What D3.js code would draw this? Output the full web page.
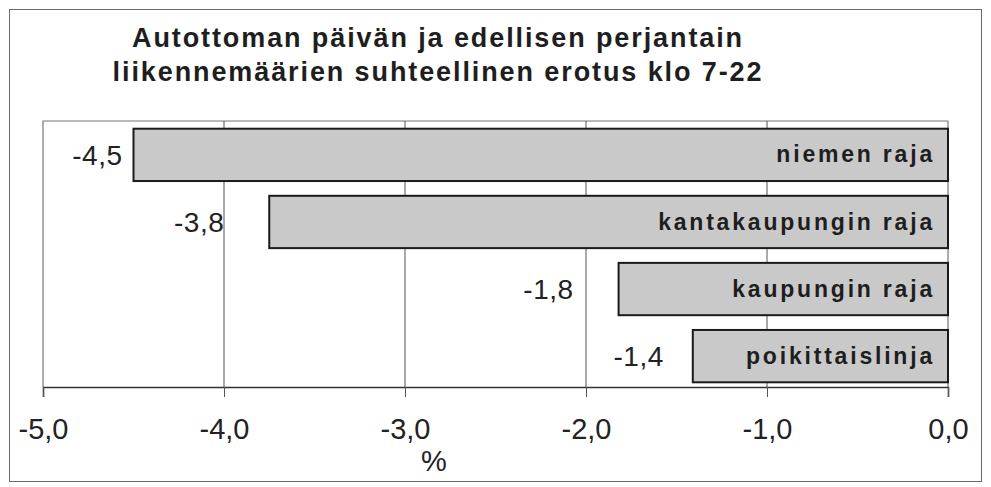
<!DOCTYPE html>
<html>
<head>
<meta charset="utf-8">
<script src="https://cdn.jsdelivr.net/npm/d3@7"></script>
<style>
  html, body { margin: 0; padding: 0; background: #fff; }
  svg { display: block; }
</style>
</head>
<body>
<svg id="chart" width="991" height="487"></svg>
<script>
// ---- data ----
const titleLines = ["Autottoman päivän ja edellisen perjantain", "liikennemäärien suhteellinen erotus klo 7-22"];
const categories = ["niemen raja", "kantakaupungin raja", "kaupungin raja", "poikittaislinja"];
const values = [-4.5, -3.75, -1.82, -1.41];
const tickValues = [-5, -4, -3, -2, -1, 0];
const axisTitle = "%";

// ---- layout ----
const W = 991, H = 487;
const plot = { left: 43, right: 948, top: 121, bottom: 387 };
const labelGap = [11, 45, 45, 29];   // visual gap between value label and bar end
const fontFamily = "'Liberation Sans', Arial, Helvetica, sans-serif";

const locale = d3.formatLocale({ decimal: ",", thousands: " ", grouping: [3], currency: ["", ""], minus: "-" });
const fmt = locale.format(".1f");

const svg = d3.select("#chart");

// outer frame
svg.append("rect")
  .attr("x", 9.5).attr("y", 9.5).attr("width", 972).attr("height", 472)
  .attr("fill", "#fff").attr("stroke", "#6a6a6a").attr("stroke-width", 1);

// title
svg.append("g").selectAll("text").data(titleLines).join("text")
  .attr("x", 438)
  .attr("y", (d, i) => 47 + i * 34)
  .attr("text-anchor", "middle")
  .attr("font-family", fontFamily)
  .attr("font-weight", "bold")
  .attr("font-size", 27)
  .attr("letter-spacing", 1.9)
  .attr("fill", "#1e1e1e")
  .text(d => d);

const x = d3.scaleLinear().domain([-5, 0]).range([plot.left, plot.right]);
const y = d3.scaleBand().domain(categories).range([plot.top + 1, plot.bottom + 2]).paddingInner(0.22).paddingOuter(0.1);

// plot area border (top, left, right)
svg.append("path")
  .attr("d", `M${plot.left},${plot.bottom}V${plot.top}H${plot.right}V${plot.bottom}`)
  .attr("fill", "none").attr("stroke", "#777").attr("stroke-width", 1.2);

// gridlines
svg.append("g").selectAll("line").data(tickValues.filter(t => t > -5 && t < 0)).join("line")
  .attr("x1", d => x(d)).attr("x2", d => x(d))
  .attr("y1", plot.top).attr("y2", plot.bottom)
  .attr("stroke", "#555").attr("stroke-width", 1);

// x axis
const xAxis = d3.axisBottom(x).tickValues(tickValues).tickSize(10).tickPadding(21).tickFormat(fmt);
const gx = svg.append("g").attr("transform", `translate(0,${plot.bottom})`).call(xAxis);
gx.select(".domain").attr("stroke", "#333").attr("stroke-width", 1.6);
gx.selectAll(".tick line").attr("stroke", "#555").attr("stroke-width", 1);
gx.selectAll(".tick text")
  .attr("font-family", fontFamily)
  .attr("font-size", 29)
  .attr("fill", "#222")
  .attr("dy", "0.71em");

// axis title
svg.append("text")
  .attr("x", 434).attr("y", 471)
  .attr("text-anchor", "middle")
  .attr("font-family", fontFamily)
  .attr("font-size", 29)
  .attr("fill", "#222")
  .text(axisTitle);

// bars
const rows = categories.map((c, i) => ({ cat: c, val: values[i], gap: labelGap[i] }));
svg.append("g").selectAll("rect").data(rows).join("rect")
  .attr("x", d => x(d.val))
  .attr("y", d => y(d.cat))
  .attr("width", d => x(0) - x(d.val))
  .attr("height", y.bandwidth())
  .attr("fill", "#c9c9c9")
  .attr("stroke", "#1a1a1a")
  .attr("stroke-width", 2);

// category labels inside bars
svg.append("g").selectAll("text").data(rows).join("text")
  .attr("x", x(0) - 13)
  .attr("y", d => y(d.cat) + y.bandwidth() / 2)
  .attr("dy", "0.33em")
  .attr("text-anchor", "end")
  .attr("font-family", fontFamily)
  .attr("font-weight", "bold")
  .attr("font-size", 23)
  .attr("letter-spacing", 2.8)
  .attr("fill", "#1e1e1e")
  .text(d => d.cat);

// value labels
svg.append("g").selectAll("text").data(rows).join("text")
  .attr("x", d => x(d.val) - d.gap)
  .attr("y", d => y(d.cat) + y.bandwidth() / 2)
  .attr("dy", "0.36em")
  .attr("text-anchor", "end")
  .attr("font-family", fontFamily)
  .attr("font-size", 28)
  .attr("letter-spacing", 0.5)
  .attr("fill", "#222")
  .text(d => fmt(d.val));
</script>
</body>
</html>
